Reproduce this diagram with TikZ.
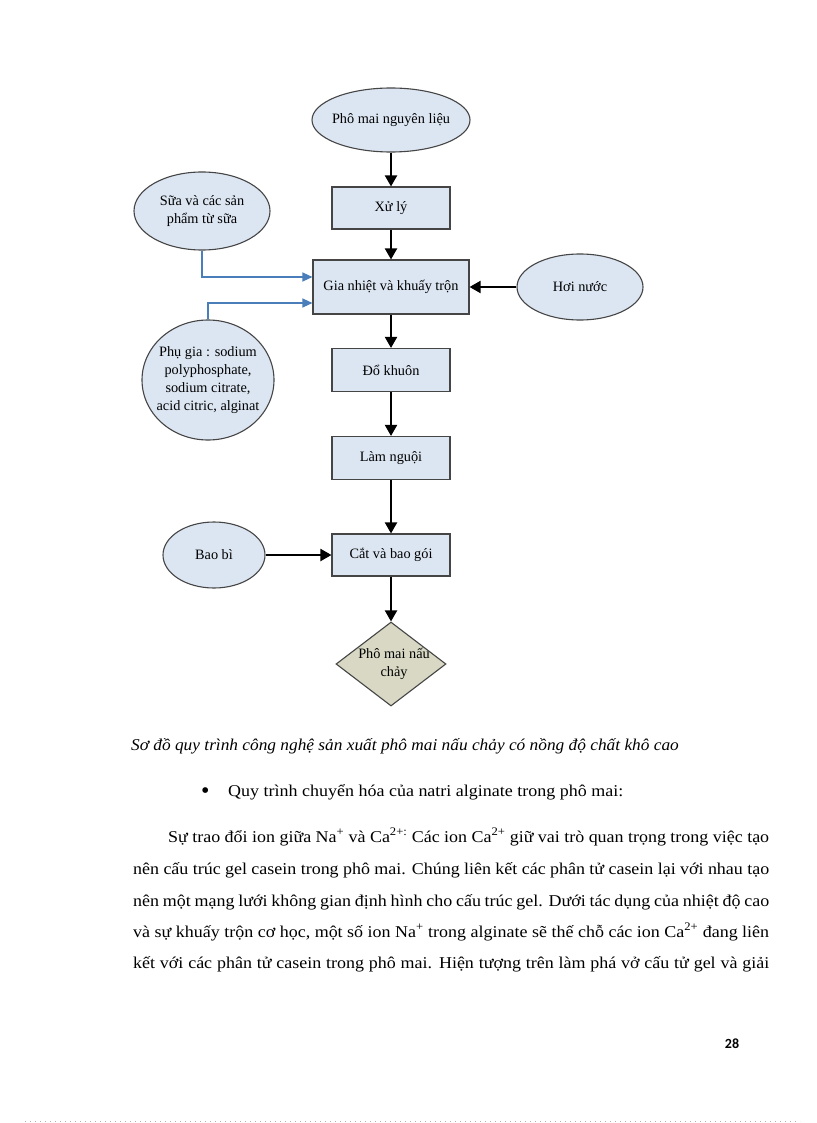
\documentclass[tikz,border=0pt]{standalone}
\usepackage{fontspec}
\setmainfont{Liberation Serif}
\newfontfamily\bodyfont[FakeStretch=1.09]{Liberation Serif}
\newfontfamily\captfont[FakeStretch=1.05]{Liberation Serif}
\newfontfamily\pagefont{Carlito}
\usetikzlibrary{shapes.geometric,arrows.meta}
\definecolor{boxfill}{HTML}{DCE6F2}
\definecolor{endfill}{HTML}{D8D8C4}
\definecolor{linkblue}{HTML}{4A7EBB}
\definecolor{edgegray}{HTML}{454545}
\newcommand\dfont{\fontsize{14.3}{18}\selectfont}
\newcommand\bfontsz{\bodyfont\fontsize{16.5}{20}\selectfont}
\begin{document}
\begin{tikzpicture}[x=1pt,y=-1pt,
  proc/.style={draw=edgegray, line width=1.1pt, fill=boxfill, rectangle, minimum width=118pt, minimum height=42pt, inner sep=0pt, font=\dfont},
  src/.style={draw=edgegray, line width=1.1pt, fill=boxfill, ellipse, inner sep=0pt},
  srctext/.style={label={[font=\dfont, align=center, inner sep=0pt]center:#1}},
  finalbox/.style={draw=edgegray, line width=1.1pt, fill=endfill, diamond, minimum width=110pt, minimum height=84pt, inner sep=0pt},
  arr/.style={draw=black, line width=2pt, -{Triangle[length=11pt,width=12pt]}},
  barr/.style={draw=linkblue, line width=1.2pt, -{Triangle[length=10pt,width=9pt]}},
  bodyline/.style={anchor=base west, inner sep=0pt, font=\bfontsz}
]
\useasboundingbox (0,0) rectangle (816,1123);
\fill[white] (0,0) rectangle (816,1123);

% flow nodes
\node[src, minimum width=158pt, minimum height=64pt, srctext={Phô mai nguyên liệu}] (raw) at (391,120) {};
\node[proc] (xuly) at (391,208) {Xử lý};
\node[proc, minimum width=156pt, minimum height=54pt] (gia) at (391,287) {Gia nhiệt và khuấy trộn};
\node[src, minimum width=126pt, minimum height=66pt, srctext={Hơi nước}] (hoi) at (580,287) {};
\node[proc, minimum height=43pt] (do) at (391,370) {Đổ khuôn};
\node[proc, minimum height=43pt] (lam) at (391,458) {Làm nguội};
\node[proc] (cat) at (391,555) {Cắt và bao gói};
\node[finalbox] (fin) at (391,664) {};
\node[font=\dfont, align=center, inner sep=0pt] (fintext) at ([xshift=3pt]fin.center) {Phô mai nấu\\chảy};

\node[src, minimum width=136pt, minimum height=78pt, srctext={Sữa và các sản\\phẩm từ sữa}] (sua) at (202,211) {};
\node[src, minimum width=132pt, minimum height=120pt, srctext={Phụ gia : sodium\\polyphosphate,\\sodium citrate,\\acid citric, alginat}] (phugia) at (208,380) {};
\node[src, minimum width=102pt, minimum height=66pt, srctext={Bao bì}] (baobi) at (214,555) {};

% connectors
\draw[arr] (raw.south) -- (xuly.north);
\draw[arr] (xuly.south) -- (gia.north);
\draw[arr] (gia.south) -- (do.north);
\draw[arr] (do.south) -- (lam.north);
\draw[arr] (lam.south) -- (cat.north);
\draw[arr] (cat.south) -- (fin.north);
\draw[arr] (hoi.west) -- (gia.east);
\draw[arr] (baobi.east) -- (cat.west);
\draw[barr] (sua.south) |- ([yshift=10pt]gia.west);
\draw[barr] (phugia.north) |- ([yshift=-16pt]gia.west);

% caption and text
\node[anchor=base west, inner sep=0pt, font=\captfont\fontsize{16.5}{20}\selectfont\itshape] (cap) at (131,750) {Sơ đồ quy trình công nghệ sản xuất phô mai nấu chảy có nồng độ chất khô cao};
\node[anchor=base west, inner sep=0pt, font=\fontsize{24}{24}\selectfont] (bul) at (201,798) {\textbullet};
\node[bodyline] (btxt) at (228,796) {Quy trình chuyển hóa của natri alginate trong phô mai:};

\node[bodyline] (l1) at (168,842) {\makebox[601pt][s]{Sự trao đổi ion giữa Na\textsuperscript{+} và Ca\textsuperscript{2+:} Các ion Ca\textsuperscript{2+} giữ vai trò quan trọng trong việc tạo}};
\node[bodyline] (l2) at (133,874) {\makebox[636pt][s]{nên cấu trúc gel casein trong phô mai. Chúng liên kết các phân tử casein lại với nhau tạo}};
\node[bodyline] (l3) at (133,906) {\makebox[636pt][s]{nên một mạng lưới không gian định hình cho cấu trúc gel. Dưới tác dụng của nhiệt độ cao}};
\node[bodyline] (l4) at (133,937) {\makebox[636pt][s]{và sự khuấy trộn cơ học, một số ion Na\textsuperscript{+} trong alginate sẽ thế chỗ các ion Ca\textsuperscript{2+} đang liên}};
\node[bodyline] (l5) at (133,968) {\makebox[636pt][s]{kết với các phân tử casein trong phô mai. Hiện tượng trên làm phá vở cấu tử gel và giải}};

\node[anchor=base, inner sep=0pt, font=\pagefont\bfseries\fontsize{14}{16}\selectfont] (pg) at (732,1048) {28};

\draw[gray!60, line width=0.8pt, dash pattern=on 0.8pt off 4.2pt] (25,1121) -- (800,1121);
\end{tikzpicture}
\end{document}
